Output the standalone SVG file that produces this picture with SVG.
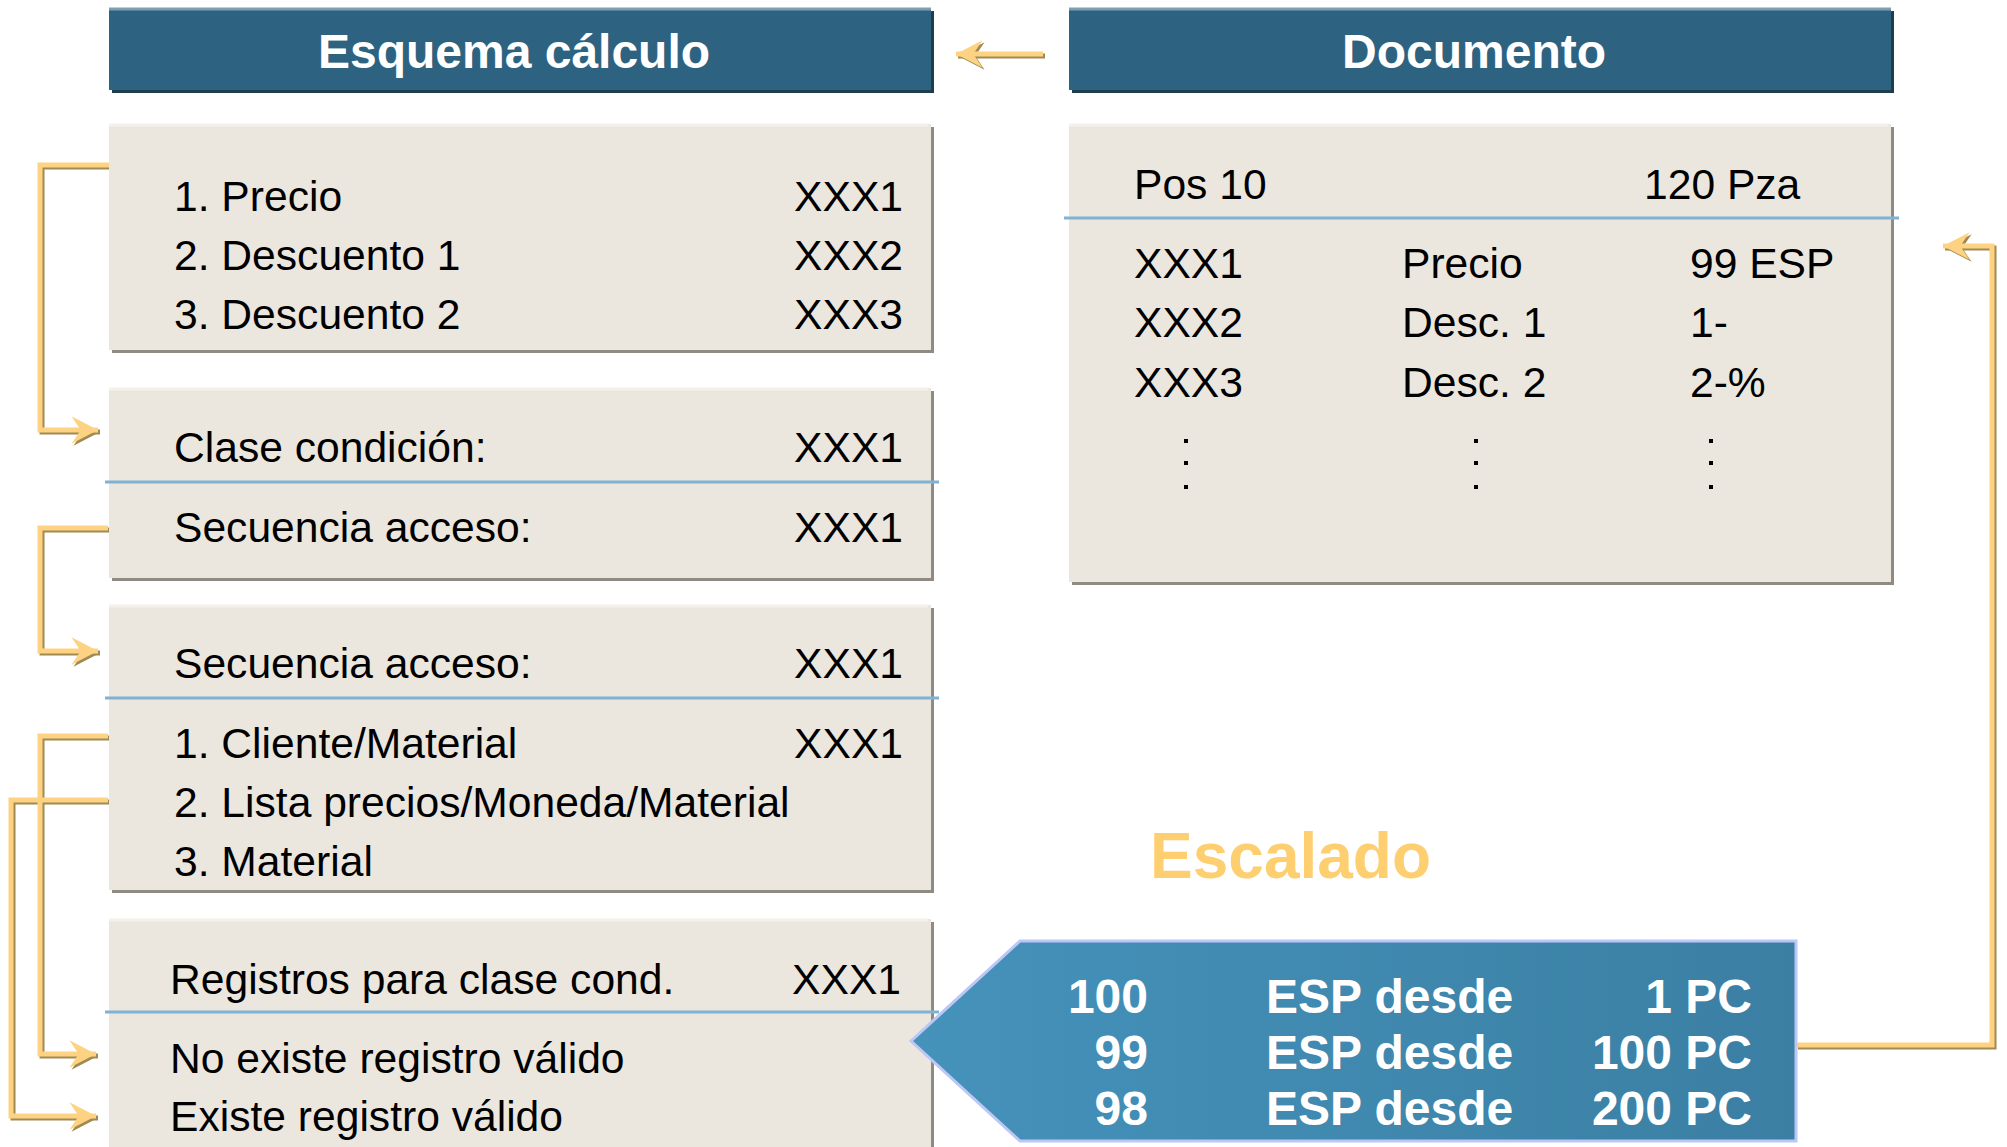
<svg xmlns="http://www.w3.org/2000/svg" width="2007" height="1147" viewBox="0 0 2007 1147">
<style>
text{font-family:"Liberation Sans",Arial,sans-serif;}
.hdr{fill:#2d6380;}
.hdrsh{fill:#1e3d4f;}
.hdrtop{stroke:#7c9fb1;stroke-width:3;}
.htxt{fill:#fff;font-size:48px;font-weight:bold;text-anchor:middle;}
.box{fill:#ebe7de;}
.boxsh{fill:#8f8b82;}
.boxtop{stroke:#f4f1eb;stroke-width:3;}
.sep{stroke:#80b3d3;stroke-width:3;}
.t{fill:#000;font-size:42.6px;}
.r{text-anchor:end;}
.cl{fill:none;stroke:#fdd383;stroke-width:5;stroke-linejoin:miter;}
.cs{fill:none;stroke:#a08a52;stroke-width:5;stroke-linejoin:miter;}
.ptxt{fill:#fff;font-size:48px;font-weight:bold;}
.dot{fill:#000;}
</style>
<defs>
<marker id="ahL" markerUnits="userSpaceOnUse" markerWidth="30" markerHeight="30" viewBox="-24 -13 26 26" refX="0" refY="0" orient="auto">
<polygon points="0,0 -23,-12 -15,0 -23,12" fill="#fdd383"/>
</marker>
<marker id="ahS" markerUnits="userSpaceOnUse" markerWidth="30" markerHeight="30" viewBox="-24 -13 26 26" refX="0" refY="0" orient="auto">
<polygon points="0,0 -23,-12 -15,0 -23,12" fill="#a08a52"/>
</marker>
<linearGradient id="pg" x1="0" y1="0" x2="1" y2="0">
<stop offset="0" stop-color="#4592bb"/>
<stop offset="1" stop-color="#3b7fa3"/>
</linearGradient>
</defs>

<g id="connectors">
<g transform="translate(2,2)">
<path class="cs" d="M1043,54 H956" marker-end="url(#ahS)"/>
<path class="cs" d="M109,165 H40 V430 H98" marker-end="url(#ahS)"/>
<path class="cs" d="M108,528 H40 V651 H98" marker-end="url(#ahS)"/>
<path class="cs" d="M108,736 H40 V1054 H96" marker-end="url(#ahS)"/>
<path class="cs" d="M108,800 H11 V1116 H96" marker-end="url(#ahS)"/>
<path class="cs" d="M1796,1045 H1992 V246 H1943" marker-end="url(#ahS)"/>
</g>
<path class="cl" d="M1043,54 H956" marker-end="url(#ahL)"/>
<path class="cl" d="M109,165 H40 V430 H98" marker-end="url(#ahL)"/>
<path class="cl" d="M108,528 H40 V651 H98" marker-end="url(#ahL)"/>
<path class="cl" d="M108,736 H40 V1054 H96" marker-end="url(#ahL)"/>
<path class="cl" d="M108,800 H11 V1116 H96" marker-end="url(#ahL)"/>
<path class="cl" d="M1796,1045 H1992 V246 H1943" marker-end="url(#ahL)"/>
</g>

<g id="header-esquema">
<rect class="hdrsh" x="112" y="11" width="822" height="82"/>
<rect class="hdr" x="109" y="8" width="822" height="82"/>
<line class="hdrtop" x1="109" y1="9" x2="931" y2="9"/>
<text class="htxt" x="514" y="68">Esquema cálculo</text>
</g>

<g id="header-documento">
<rect class="hdrsh" x="1072" y="11" width="822" height="82"/>
<rect class="hdr" x="1069" y="8" width="822" height="82"/>
<line class="hdrtop" x1="1069" y1="9" x2="1891" y2="9"/>
<text class="htxt" x="1474" y="68">Documento</text>
</g>

<g id="box-esquema">
<rect class="boxsh" x="112" y="127" width="822" height="226"/>
<rect class="box" x="109" y="124" width="822" height="226"/>
<line class="boxtop" x1="109" y1="125" x2="928" y2="125"/>
<text class="t" x="174" y="211">1. Precio</text>
<text class="t r" x="903" y="211">XXX1</text>
<text class="t" x="174" y="270">2. Descuento 1</text>
<text class="t r" x="903" y="270">XXX2</text>
<text class="t" x="174" y="329">3. Descuento 2</text>
<text class="t r" x="903" y="329">XXX3</text>
</g>

<g id="box-clase">
<rect class="boxsh" x="112" y="391" width="822" height="190"/>
<rect class="box" x="109" y="388" width="822" height="190"/>
<line class="boxtop" x1="109" y1="389" x2="928" y2="389"/>
<line class="sep" x1="105" y1="482" x2="939" y2="482"/>
<text class="t" x="174" y="462">Clase condición:</text>
<text class="t r" x="903" y="462">XXX1</text>
<text class="t" x="174" y="542">Secuencia acceso:</text>
<text class="t r" x="903" y="542">XXX1</text>
</g>

<g id="box-secuencia">
<rect class="boxsh" x="112" y="608" width="822" height="285"/>
<rect class="box" x="109" y="605" width="822" height="285"/>
<line class="boxtop" x1="109" y1="606" x2="928" y2="606"/>
<line class="sep" x1="105" y1="698" x2="939" y2="698"/>
<text class="t" x="174" y="678">Secuencia acceso:</text>
<text class="t r" x="903" y="678">XXX1</text>
<text class="t" x="174" y="758">1. Cliente/Material</text>
<text class="t r" x="903" y="758">XXX1</text>
<text class="t" x="174" y="817">2. Lista precios/Moneda/Material</text>
<text class="t" x="174" y="876">3. Material</text>
</g>

<g id="box-registros">
<rect class="boxsh" x="112" y="922" width="822" height="240"/>
<rect class="box" x="109" y="919" width="822" height="240"/>
<line class="boxtop" x1="109" y1="920" x2="928" y2="920"/>
<line class="sep" x1="105" y1="1012" x2="939" y2="1012"/>
<text class="t" x="170" y="994">Registros para clase cond.</text>
<text class="t r" x="901" y="994">XXX1</text>
<text class="t" x="170" y="1073">No existe registro válido</text>
<text class="t" x="170" y="1131">Existe registro válido</text>
</g>

<g id="box-documento">
<rect class="boxsh" x="1072" y="127" width="822" height="458"/>
<rect class="box" x="1069" y="124" width="822" height="458"/>
<line class="boxtop" x1="1069" y1="125" x2="1888" y2="125"/>
<line class="sep" x1="1064" y1="218" x2="1899" y2="218"/>
<text class="t" x="1134" y="199">Pos 10</text>
<text class="t" x="1644" y="199">120 Pza</text>
<text class="t" x="1134" y="278">XXX1</text>
<text class="t" x="1402" y="278">Precio</text>
<text class="t" x="1690" y="278">99 ESP</text>
<text class="t" x="1134" y="337">XXX2</text>
<text class="t" x="1402" y="337">Desc. 1</text>
<text class="t" x="1690" y="337">1-</text>
<text class="t" x="1134" y="397">XXX3</text>
<text class="t" x="1402" y="397">Desc. 2</text>
<text class="t" x="1690" y="397">2-%</text>
<rect class="dot" x="1184" y="439" width="4" height="4"/>
<rect class="dot" x="1184" y="461" width="4" height="4"/>
<rect class="dot" x="1184" y="485" width="4" height="4"/>
<rect class="dot" x="1474" y="439" width="4" height="4"/>
<rect class="dot" x="1474" y="461" width="4" height="4"/>
<rect class="dot" x="1474" y="485" width="4" height="4"/>
<rect class="dot" x="1709" y="439" width="4" height="4"/>
<rect class="dot" x="1709" y="461" width="4" height="4"/>
<rect class="dot" x="1709" y="485" width="4" height="4"/>
</g>

<g id="label-escalado">
<text x="1150" y="878" font-size="64" font-weight="bold" fill="#fecf70">Escalado</text>
</g>

<g id="escalado-pentagon">
<polygon points="911,1041 1020,941 1796,941 1796,1141 1020,1141" fill="url(#pg)" stroke="#bcc7f5" stroke-width="3"/>
<text class="ptxt" x="1148" y="1013" text-anchor="end">100</text>
<text class="ptxt" x="1266" y="1013">ESP desde</text>
<text class="ptxt" x="1752" y="1013" text-anchor="end">1 PC</text>
<text class="ptxt" x="1148" y="1069" text-anchor="end">99</text>
<text class="ptxt" x="1266" y="1069">ESP desde</text>
<text class="ptxt" x="1752" y="1069" text-anchor="end">100 PC</text>
<text class="ptxt" x="1148" y="1125" text-anchor="end">98</text>
<text class="ptxt" x="1266" y="1125">ESP desde</text>
<text class="ptxt" x="1752" y="1125" text-anchor="end">200 PC</text>
</g>
</svg>
